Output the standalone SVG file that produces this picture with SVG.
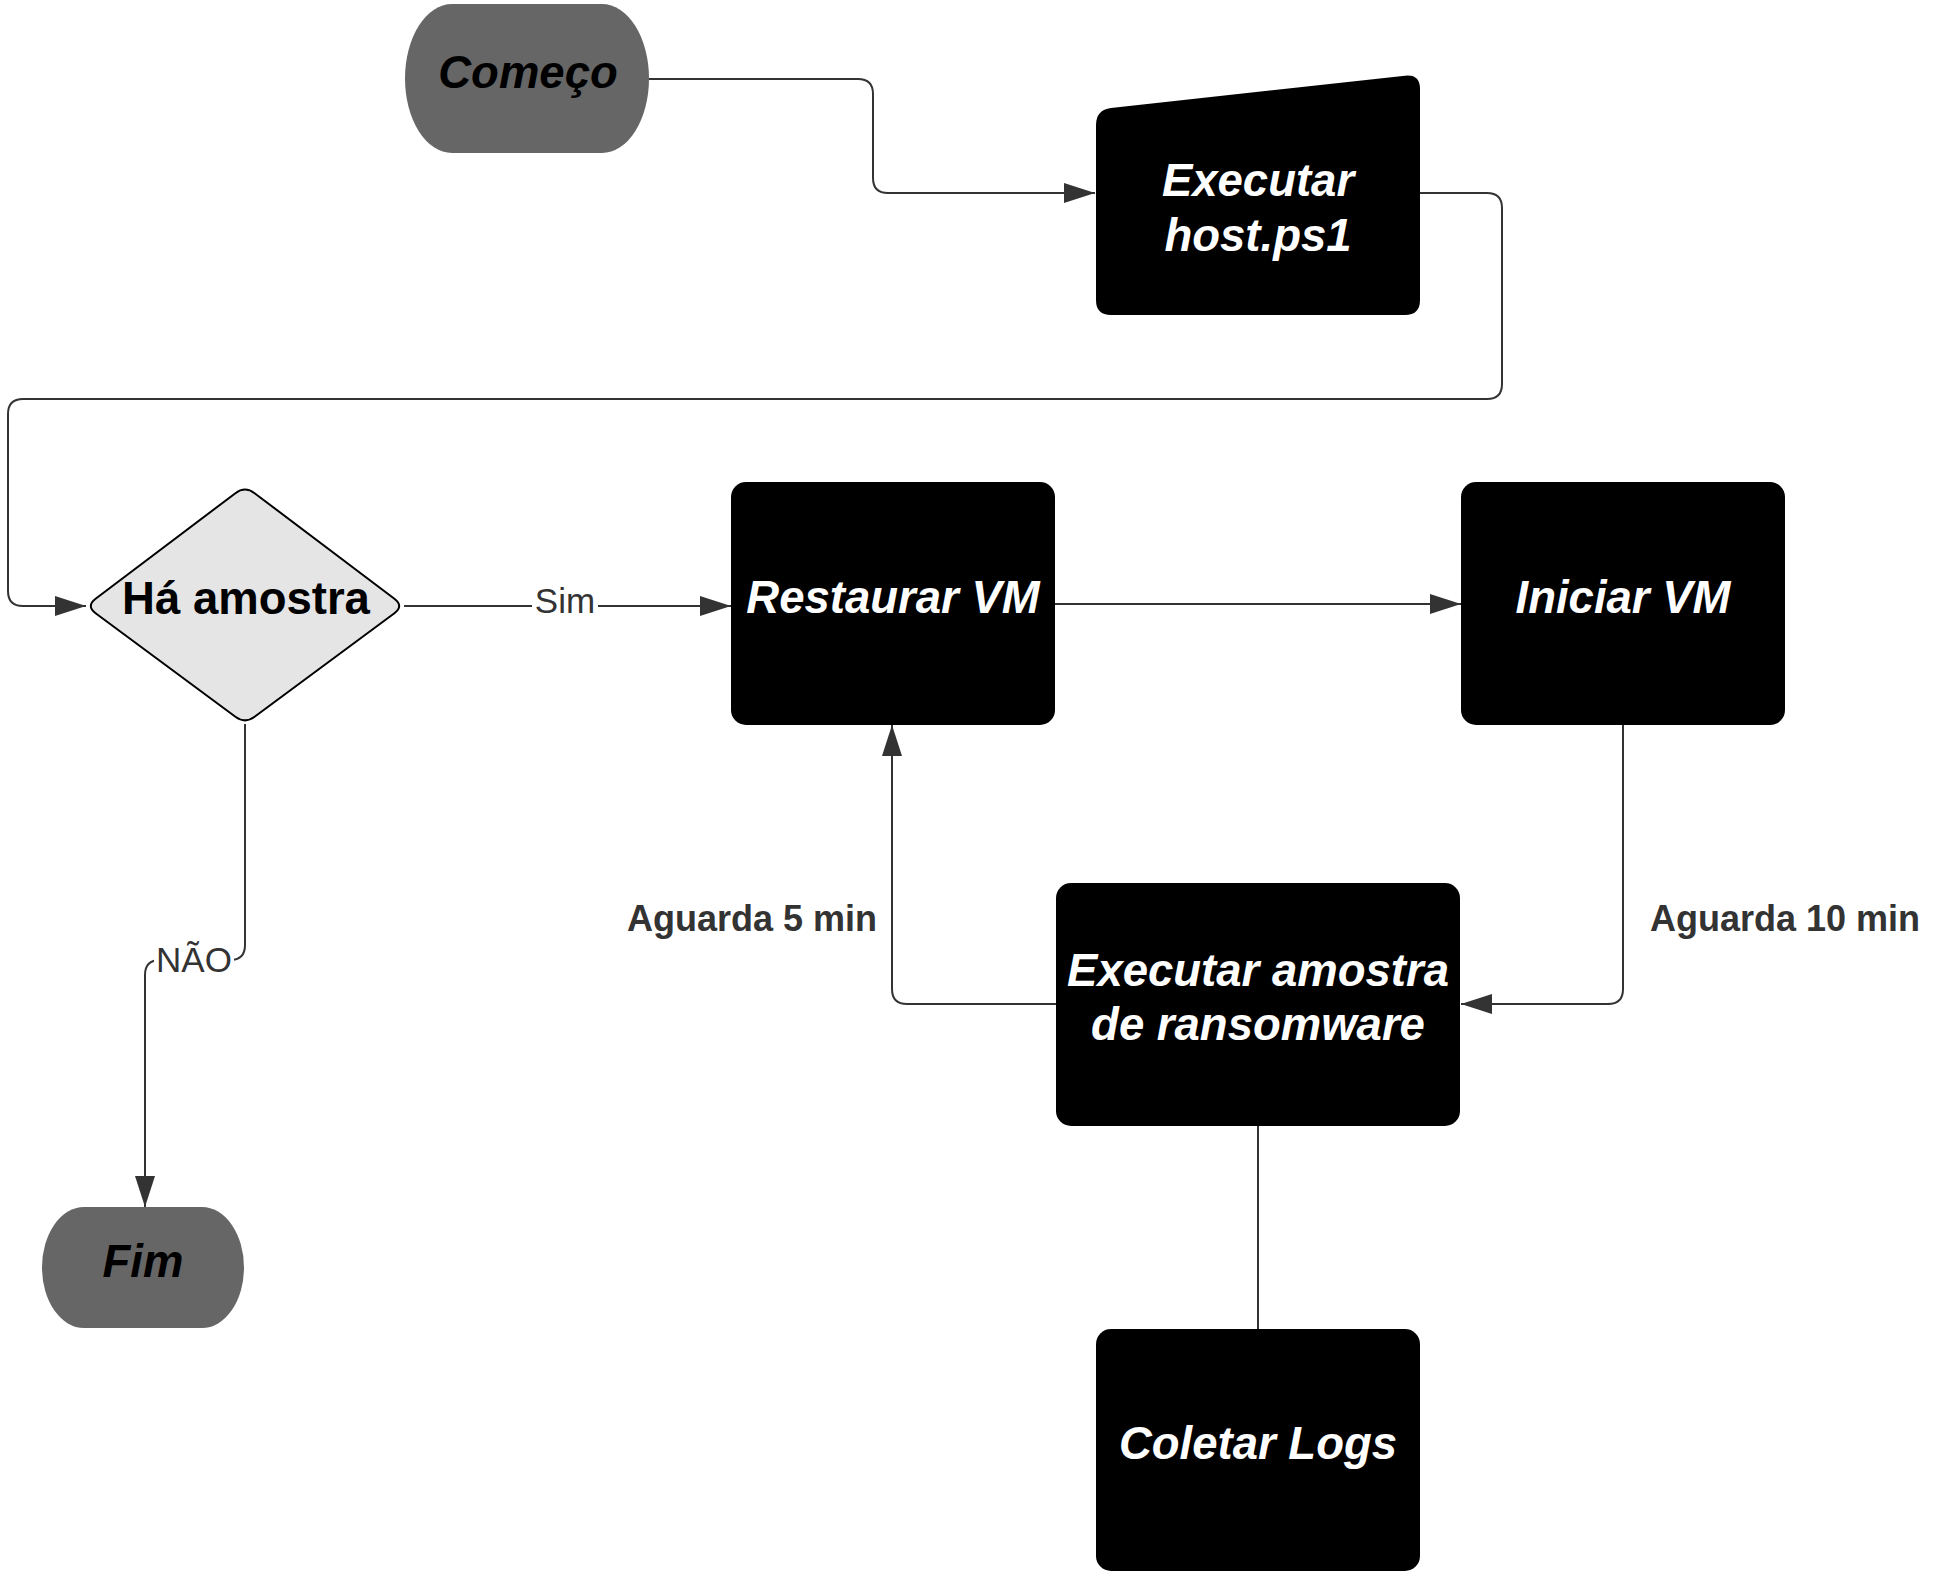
<svg xmlns="http://www.w3.org/2000/svg" width="1937" height="1583" viewBox="0 0 1937 1583">
<style>
.term{fill:#666666;}
.proc{fill:#000000;}
.dec{fill:#e5e5e5;stroke:#000000;stroke-width:2;}
.tn{font-family:"Liberation Sans",Arial,sans-serif;font-weight:bold;font-style:italic;font-size:45.5px;text-anchor:middle;}
.tw{fill:#ffffff;}
.tb{fill:#000000;}
.conn{fill:none;stroke:#333333;stroke-width:2;}
.lbl{font-family:"Liberation Sans",Arial,sans-serif;font-size:35px;fill:#333333;text-anchor:middle;}
.wait{font-family:"Liberation Sans",Arial,sans-serif;font-weight:bold;font-size:36px;fill:#333333;}
</style>
<defs>
<marker id="arr" markerUnits="userSpaceOnUse" markerWidth="32" markerHeight="22" refX="31" refY="10" orient="auto">
<path d="M0,0 L31,10 L0,20 Z" fill="#333333"/>
</marker>
</defs>
<rect width="1937" height="1583" fill="#ffffff"/>
<g id="connectors">
<path class="conn" d="M649,79 H858 Q873,79 873,94 V178 Q873,193 888,193 H1095" marker-end="url(#arr)"/>
<path class="conn" d="M1420,193 H1487 Q1502,193 1502,208 V384 Q1502,399 1487,399 H23 Q8,399 8,414 V591 Q8,606 23,606 H86" marker-end="url(#arr)"/>
<path class="conn" d="M404,606 H731" marker-end="url(#arr)"/>
<path class="conn" d="M1055,604 H1461" marker-end="url(#arr)"/>
<path class="conn" d="M1623,725 V989 Q1623,1004 1608,1004 H1461" marker-end="url(#arr)"/>
<path class="conn" d="M1056,1004 H907 Q892,1004 892,989 V725" marker-end="url(#arr)"/>
<path class="conn" d="M1258,1126 V1329"/>
<path class="conn" d="M245,724 V945 Q245,960 230,960 H160 Q145,960 145,975 V1207" marker-end="url(#arr)"/>
<rect x="532" y="584" width="66" height="34" fill="#ffffff"/>
<text class="lbl" x="565" y="613">Sim</text>
<rect x="154" y="943" width="80" height="34" fill="#ffffff"/>
<text class="lbl" x="194" y="972">NÃO</text>
<text class="wait" x="877" y="931" text-anchor="end">Aguarda 5 min</text>
<text class="wait" x="1650" y="931">Aguarda 10 min</text>
</g>
<g id="node-comeco">
<rect class="term" x="405" y="4" width="244" height="149" rx="47" ry="74.5"/>
<text class="tn tb" x="528" y="88">Começo</text>
</g>
<g id="node-executar-host">
<path class="proc" d="M1111,108 L1405,75.7 Q1420,74 1420,89 V300 Q1420,315 1405,315 H1111 Q1096,315 1096,300 V125 Q1096,110 1111,108 Z"/>
<text class="tn tw" x="1258" y="196">Executar</text>
<text class="tn tw" x="1258" y="251">host.ps1</text>
</g>
<g id="node-ha-amostra">
<path class="dec" d="M95.6,598.7 L235.4,493.2 Q245,486 254.6,493.2 L394.4,598.7 Q404,606 394.4,613.2 L254.6,716.8 Q245,724 235.4,716.8 L95.6,613.2 Q86,606 95.6,598.7 Z"/>
<text x="246" y="614" font-family="Liberation Sans, Arial, sans-serif" font-weight="bold" font-size="45.5" text-anchor="middle" fill="#000000">Há amostra</text>
</g>
<g id="node-restaurar">
<rect class="proc" x="731" y="482" width="324" height="243" rx="15"/>
<text class="tn tw" x="893" y="613">Restaurar VM</text>
</g>
<g id="node-iniciar">
<rect class="proc" x="1461" y="482" width="324" height="243" rx="15"/>
<text class="tn tw" x="1623" y="613">Iniciar VM</text>
</g>
<g id="node-executar-amostra">
<rect class="proc" x="1056" y="883" width="404" height="243" rx="15"/>
<text class="tn tw" x="1258" y="986">Executar amostra</text>
<text class="tn tw" x="1258" y="1040">de ransomware</text>
</g>
<g id="node-coletar">
<rect class="proc" x="1096" y="1329" width="324" height="242" rx="15"/>
<text class="tn tw" x="1258" y="1459">Coletar Logs</text>
</g>
<g id="node-fim">
<rect class="term" x="42" y="1207" width="202" height="121" rx="42" ry="60.5"/>
<text class="tn tb" x="143" y="1277">Fim</text>
</g>
</svg>
